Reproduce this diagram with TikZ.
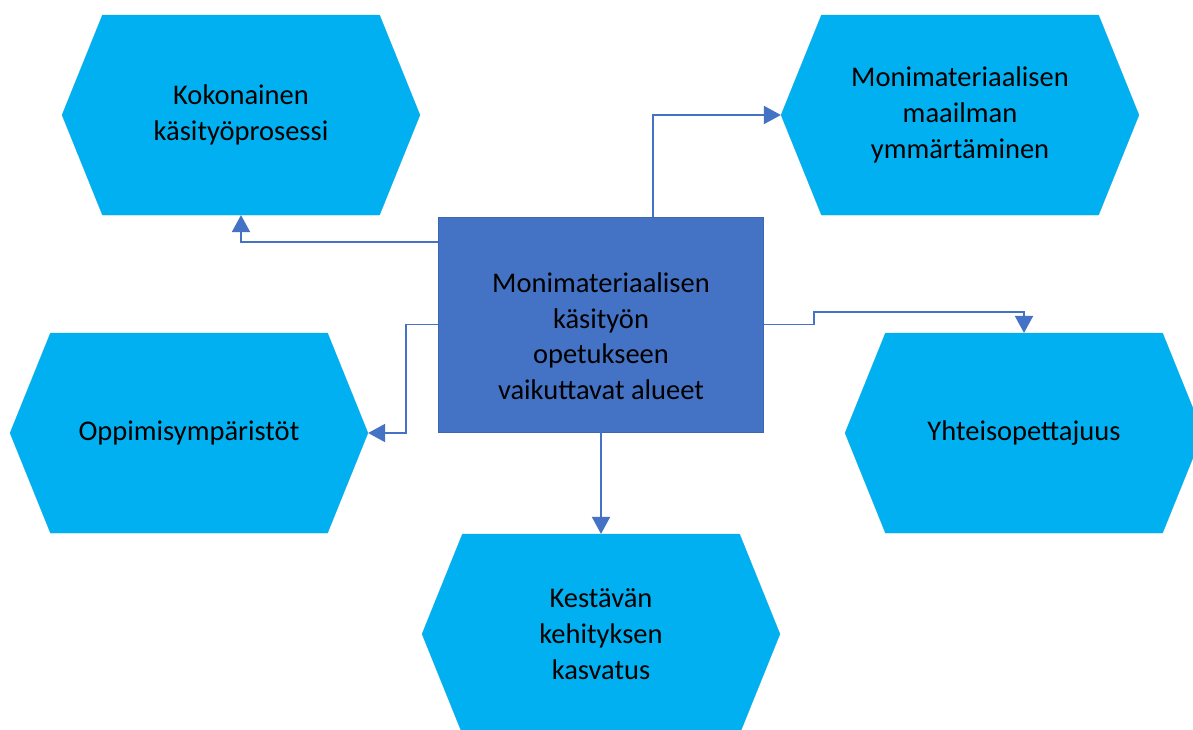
\documentclass[tikz,border=0pt]{standalone}
\usepackage{fontspec}
\setmainfont{Carlito}
\usepackage{tikz}
\usetikzlibrary{shapes.symbols,arrows.meta}
\definecolor{hexblue}{HTML}{00B0F0}
\definecolor{boxblue}{HTML}{4472C4}
\definecolor{boxedge}{HTML}{3D66B0}
\tikzset{
    hex-box/.style = {signal, signal to=west and east, signal pointer angle=136, fill=hexblue, draw=hexblue!85!gray, very thin, minimum width=358pt, minimum height=200pt, inner sep=0pt, align=center, font=\fontsize{28.5}{35.7}\selectfont},
    center-box/.style = {rectangle, fill=boxblue, draw=boxedge, thin, minimum width=325pt, minimum height=215pt, inner sep=0pt, text height=150pt, align=center, font=\fontsize{28.5}{35.7}\selectfont},
    link-arrow/.style = {draw=boxblue, line width=1.9pt, -{Triangle[length=17pt,width=18pt]}},
}

\begin{document}
\begin{tikzpicture}[x=1pt, y=-1pt]
\fill[white, use as bounding box] (0,0) rectangle (1193,729);
\node[center-box] (center) at (601,324.5) {Monimateriaalisen\\käsityön\\opetukseen\\vaikuttavat alueet};
\node[hex-box] (process) at (241,115) {Kokonainen\\käsityöprosessi};
\node[hex-box] (world) at (960,115) {Monimateriaalisen\\maailman\\ymmärtäminen};
\node[hex-box] (environments) at (189,433) {Oppimisympäristöt};
\node[hex-box] (coteaching) at (1024,433) {Yhteisopettajuus};
\node[hex-box] (sustainable) at (601,634) {Kestävän\\kehityksen\\kasvatus};
\draw[link-arrow] ([yshift=-25pt]center.north west) -| (process.south);
\draw[link-arrow] ([xshift=52pt]center.north) |- (world.west);
\draw[link-arrow] (center.west) -- ++(-32pt,0pt) |- (environments.east);
\draw[link-arrow] (center.east) -- ++(50pt,0pt) |- ([yshift=21pt]coteaching.north) -- (coteaching.north);
\draw[link-arrow] (center.south) -- (sustainable.north);
\end{tikzpicture}
\end{document}
